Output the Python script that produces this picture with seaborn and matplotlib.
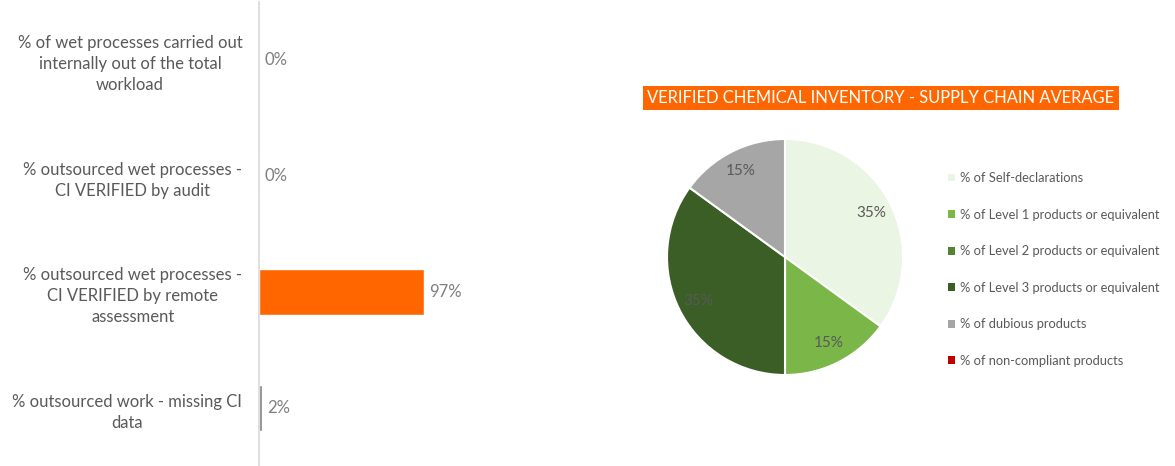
import matplotlib
matplotlib.use("Agg")
import matplotlib.pyplot as plt
import seaborn as sns
import pandas as pd
from matplotlib.patches import Patch

# ---- data ----
bar_categories = [
    "% of wet processes carried out\ninternally out of the total\nworkload",
    "% outsourced wet processes -\nCI VERIFIED by audit",
    "% outsourced wet processes -\nCI VERIFIED by remote\nassessment",
    "% outsourced work - missing CI\ndata",
]
bar_values = [0.0, 0.4, 97.0, 2.0]
bar_colors = ["#FF6600", "#FF6600", "#FF6600", "#7F7F7F"]

pie_labels = [
    "% of Self-declarations",
    "% of Level 1 products or equivalent",
    "% of Level 2 products or equivalent",
    "% of Level 3 products or equivalent",
    "% of dubious products",
    "% of non-compliant products",
]
pie_values = [35, 15, 0, 35, 15, 0]
pie_colors = ["#EBF5E3", "#7AB648", "#548235", "#3A5E26", "#A6A6A6", "#C00000"]
pie_title = "VERIFIED CHEMICAL INVENTORY - SUPPLY CHAIN AVERAGE"

sns.set_style("white")
plt.rcParams["font.family"] = ["Lato", "DejaVu Sans"]
TEXT = "#595959"

W, H = 1175, 466
fig = plt.figure(figsize=(W / 100, H / 100), dpi=100)

# ---- bar chart ----
axb = fig.add_axes([259 / W, 0 / H, 341 / W, 464 / H])
df = pd.DataFrame({"cat": bar_categories, "val": bar_values})
sns.barplot(data=df, x="val", y="cat", hue="cat", palette=bar_colors,
            orient="h", width=0.4, legend=False, ax=axb, saturation=1)
axb.set_xlim(0, 200)
axb.set_xlabel("")
axb.set_ylabel("")
axb.set_xticks([])
for s in ["top", "right", "bottom"]:
    axb.spines[s].set_visible(False)
axb.spines["left"].set_color("#D9D9D9")
axb.spines["left"].set_linewidth(1.2)
axb.tick_params(axis="y", length=0, pad=12, labelsize=12, labelcolor=TEXT)
for lbl in axb.get_yticklabels():
    lbl.set_multialignment("center")
    lbl.set_linespacing(1.4)
for i, v in enumerate(bar_values):
    axb.text(v + 3, i, f"{round(v):d}%", va="center", ha="left",
             fontsize=12, color="#7F7F7F")

# ---- pie chart ----
r = 118
cx, cy = 785, H - 257
axp = fig.add_axes([(cx - r) / W, (cy - r) / H, 2 * r / W, 2 * r / H])
wedges, texts = axp.pie(
    pie_values, colors=pie_colors, startangle=90, counterclock=False,
    labels=[f"{v}%" if v > 0 else "" for v in pie_values],
    labeldistance=0.82, radius=1,
    wedgeprops=dict(edgecolor="white", linewidth=1.5),
    textprops=dict(fontsize=11, color=TEXT, ha="center", va="center"),
)
for t in texts:
    t.set_horizontalalignment("center")
axp.set_xlim(-1, 1)
axp.set_ylim(-1, 1)
axp.set_aspect("equal")
axp.axis("off")

fig.text(881 / W, 1 - 98 / H, pie_title, ha="center", va="center",
         fontsize=11.9, color="white",
         bbox=dict(boxstyle="square,pad=0.25", facecolor="#FF6600", edgecolor="none"))

handles = [Patch(facecolor=c, edgecolor="none") for c in pie_colors]
leg = fig.legend(handles, pie_labels, loc="upper left",
                 bbox_to_anchor=(943 / W, 1 - 167 / H), frameon=False,
                 fontsize=9.3, labelcolor=TEXT, handlelength=0.55, handleheight=0.55,
                 handletextpad=0.4, labelspacing=1.9, borderaxespad=0)

fig.savefig("out.png", dpi=100)
